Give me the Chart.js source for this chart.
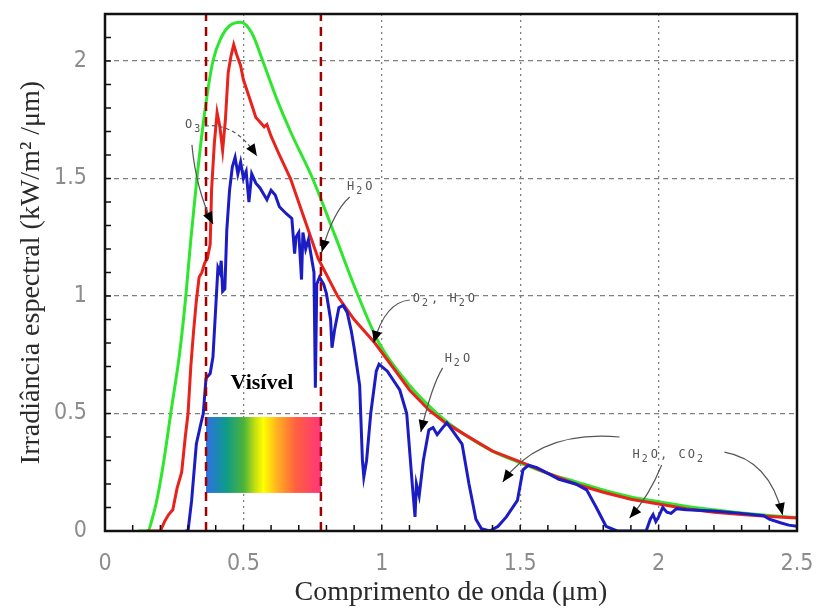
<!DOCTYPE html>
<html>
<head>
<meta charset="utf-8">
<script src="https://cdn.jsdelivr.net/npm/chart.js@4.4.1/dist/chart.umd.min.js"></script>
<style>
  html, body { margin: 0; padding: 0; background: #fff; }
  #wrap { width: 816px; height: 609px; }
</style>
</head>
<body>
<div id="wrap"><canvas id="chart" width="816" height="609"></canvas></div>
<script>
// ---- dados ----
const waveGreen = [0.12, 0.155, 0.17, 0.187, 0.21, 0.24, 0.27, 0.292, 0.31, 0.332, 0.36, 0.39, 0.42, 0.45, 0.49, 0.53, 0.57, 0.62, 0.67, 0.75, 0.83, 0.915, 0.99, 1.1, 1.2, 1.3, 1.4, 1.5, 1.6, 1.7, 1.8, 1.9, 2.0, 2.1, 2.2, 2.3, 2.4, 2.5];
const irrGreen  = [0, 0, 0.05, 0.13, 0.28, 0.52, 0.76, 1.0, 1.24, 1.5, 1.78, 2.0, 2.1, 2.15, 2.165, 2.12, 2.0, 1.84, 1.7, 1.5, 1.26, 1.0, 0.8, 0.62, 0.5, 0.41, 0.34, 0.29, 0.245, 0.21, 0.175, 0.145, 0.125, 0.105, 0.09, 0.077, 0.066, 0.057];

const waveRed = [0.15, 0.2, 0.215, 0.23, 0.245, 0.26, 0.277, 0.29, 0.3, 0.31, 0.32, 0.33, 0.34, 0.35, 0.36, 0.37, 0.38, 0.385, 0.395, 0.405, 0.415, 0.425, 0.435, 0.445, 0.455, 0.465, 0.475, 0.49, 0.5, 0.52, 0.545, 0.56, 0.575, 0.585, 0.6, 0.63, 0.67, 0.72, 0.77, 0.84, 0.9, 0.975, 1.05, 1.1, 1.17, 1.23, 1.3, 1.4, 1.51, 1.6, 1.7, 1.8, 1.9, 2.0, 2.1, 2.2, 2.3, 2.4, 2.5];
const irrRed  = [0, 0, 0.04, 0.07, 0.09, 0.18, 0.25, 0.4, 0.5, 0.7, 0.85, 0.98, 1.08, 1.1, 1.14, 1.16, 1.22, 1.45, 1.65, 1.78, 1.72, 1.62, 1.75, 1.95, 2.02, 2.07, 2.03, 1.98, 1.92, 1.85, 1.76, 1.74, 1.72, 1.73, 1.68, 1.6, 1.5, 1.33, 1.16, 1.0, 0.9, 0.8, 0.68, 0.6, 0.515, 0.46, 0.41, 0.34, 0.29, 0.245, 0.2, 0.165, 0.135, 0.115, 0.095, 0.08, 0.07, 0.062, 0.055];

const waveBlue = [0.29, 0.3, 0.313, 0.33, 0.345, 0.355, 0.365, 0.38, 0.39, 0.4, 0.408, 0.415, 0.42, 0.425, 0.433, 0.44, 0.45, 0.46, 0.47, 0.48, 0.49, 0.5, 0.51, 0.52, 0.53, 0.545, 0.56, 0.575, 0.585, 0.6, 0.615, 0.63, 0.655, 0.675, 0.685, 0.69, 0.7, 0.71, 0.715, 0.725, 0.735, 0.745, 0.755, 0.76, 0.765, 0.775, 0.79, 0.8, 0.815, 0.82, 0.83, 0.845, 0.86, 0.875, 0.89, 0.9, 0.91, 0.92, 0.93, 0.935, 0.945, 0.96, 0.98, 0.99, 1.02, 1.065, 1.09, 1.11, 1.12, 1.125, 1.135, 1.15, 1.17, 1.185, 1.2, 1.22, 1.235, 1.26, 1.29, 1.315, 1.34, 1.36, 1.39, 1.42, 1.45, 1.49, 1.51, 1.53, 1.56, 1.6, 1.64, 1.7, 1.74, 1.775, 1.81, 1.85, 1.955, 1.97, 1.98, 1.99, 2.0, 2.015, 2.03, 2.045, 2.065, 2.1, 2.2, 2.3, 2.38, 2.4, 2.44, 2.47, 2.5];
const irrBlue  = [0, 0, 0.13, 0.37, 0.45, 0.5, 0.65, 0.67, 0.74, 0.95, 1.12, 1.1, 1.15, 1.02, 1.03, 1.28, 1.45, 1.55, 1.59, 1.52, 1.57, 1.5, 1.53, 1.4, 1.52, 1.48, 1.46, 1.43, 1.41, 1.45, 1.43, 1.38, 1.35, 1.33, 1.18, 1.25, 1.27, 1.07, 1.27, 1.2, 1.24, 1.17, 1.1, 0.61, 1.05, 1.08, 1.05, 1.01, 0.9, 0.78, 0.86, 0.95, 0.96, 0.93, 0.85, 0.78, 0.7, 0.62, 0.3, 0.23, 0.3, 0.5, 0.68, 0.71, 0.68, 0.6, 0.5, 0.2, 0.06, 0.2, 0.15, 0.3, 0.43, 0.44, 0.41, 0.44, 0.46, 0.42, 0.37, 0.2, 0.05, 0.01, 0, 0.02, 0.06, 0.13, 0.26, 0.28, 0.27, 0.245, 0.22, 0.2, 0.175, 0.1, 0.02, 0, 0, 0.05, 0.07, 0.04, 0.06, 0.1, 0.08, 0.075, 0.095, 0.09, 0.085, 0.075, 0.065, 0.05, 0.035, 0.025, 0.02];

// faixa do visível
const visStart = 0.365;
const visEnd = 0.78;
const bandLow = 0.162;
const bandHigh = 0.485;

const xTicks = [0, 0.5, 1, 1.5, 2, 2.5];
const yTicks = [0, 0.5, 1, 1.5, 2];

// rótulos de absorção (texto, posição, setas)
const absorcoes = [
    { text: "O3", at: [0.289, 1.715], arrows: [
        { from: [0.314, 1.643], ctrl: [0.329, 1.451], to: [0.39, 1.306] },
        { from: [0.361, 1.723], ctrl: [0.469, 1.74], to: [0.549, 1.596], dashed: true } ] },
    { text: "H2O", at: [0.874, 1.451], arrows: [
        { from: [0.884, 1.421], ctrl: [0.823, 1.357], to: [0.783, 1.187] } ] },
    { text: "O2, H2O", at: [1.112, 0.974], arrows: [
        { from: [1.101, 0.983], ctrl: [1.011, 0.974], to: [0.971, 0.8] } ] },
    { text: "H2O", at: [1.227, 0.719], arrows: [
        { from: [1.22, 0.694], ctrl: [1.181, 0.621], to: [1.141, 0.421] } ] },
    { text: "H2O, CO2", at: [1.906, 0.311], arrows: [
        { from: [1.859, 0.4], ctrl: [1.57, 0.43], to: [1.437, 0.209] },
        { from: [2.011, 0.281], ctrl: [1.968, 0.153], to: [1.895, 0.055] },
        { from: [2.238, 0.336], ctrl: [2.401, 0.302], to: [2.448, 0.068] } ] }
];

function pts(xs, ys) {
    return xs.map((x, i) => ({ x: x, y: ys[i] }));
}

function drawSubText(ctx, text, px, py) {
    let cx = px;
    for (const ch of text) {
        if (/\d/.test(ch)) {
            ctx.font = "10px 'DejaVu Sans Mono'";
            ctx.fillText(ch, cx, py + 4);
            cx += ctx.measureText(ch).width + 3;
        } else {
            ctx.font = "12px 'DejaVu Sans Mono'";
            ctx.fillText(ch, cx, py);
            cx += ctx.measureText(ch).width + 2;
        }
    }
}

const overlay = {
    id: "overlay",
    beforeDatasetsDraw(chart) {
        const { ctx, scales: { x, y } } = chart;
        const x0 = x.getPixelForValue(visStart);
        const x1 = x.getPixelForValue(visEnd);
        const y0 = y.getPixelForValue(bandHigh);
        const y1 = y.getPixelForValue(bandLow);
        const g = ctx.createLinearGradient(x0, 0, x1, 0);
        g.addColorStop(0, "#2f6fe6");
        g.addColorStop(0.17, "#0e9a8c");
        g.addColorStop(0.33, "#4cb43a");
        g.addColorStop(0.43, "#c8e010");
        g.addColorStop(0.5, "#ffff00");
        g.addColorStop(0.62, "#ffb020");
        g.addColorStop(0.78, "#ff6040");
        g.addColorStop(1, "#ff357a");
        ctx.save();
        ctx.fillStyle = g;
        ctx.fillRect(x0, y0, x1 - x0, y1 - y0);
        ctx.restore();
    },
    afterDatasetsDraw(chart) {
        const { ctx, chartArea: a, scales: { x, y } } = chart;
        ctx.save();

        // marcas menores (0.1)
        ctx.strokeStyle = "#111";
        ctx.lineWidth = 1.5;
        ctx.beginPath();
        for (let i = 0; i <= 25; i++) {
            const px = x.getPixelForValue(i / 10);
            ctx.moveTo(px, a.bottom);
            ctx.lineTo(px, a.bottom - 6);
        }
        for (let i = 0; i <= 22; i++) {
            const py = y.getPixelForValue(i / 10);
            ctx.moveTo(a.left, py);
            ctx.lineTo(a.left + 6, py);
        }
        ctx.stroke();

        // moldura
        ctx.lineWidth = 2.5;
        ctx.strokeStyle = "#111";
        ctx.strokeRect(a.left, a.top, a.right - a.left, a.bottom - a.top);

        // texto "Visível"
        ctx.fillStyle = "#000";
        ctx.font = "bold 22px 'Liberation Serif'";
        ctx.textAlign = "center";
        ctx.textBaseline = "middle";
        ctx.fillText("Visível", x.getPixelForValue(0.567), y.getPixelForValue(0.63));

        // absorções
        ctx.textAlign = "left";
        ctx.textBaseline = "alphabetic";
        absorcoes.forEach(ab => {
            ctx.fillStyle = "#555";
            drawSubText(ctx, ab.text, x.getPixelForValue(ab.at[0]), y.getPixelForValue(ab.at[1]));
            ab.arrows.forEach(ar => {
                const fx = x.getPixelForValue(ar.from[0]), fy = y.getPixelForValue(ar.from[1]);
                const cx = x.getPixelForValue(ar.ctrl[0]), cy = y.getPixelForValue(ar.ctrl[1]);
                const tx = x.getPixelForValue(ar.to[0]), ty = y.getPixelForValue(ar.to[1]);
                ctx.strokeStyle = "#555";
                ctx.lineWidth = 1.2;
                ctx.setLineDash(ar.dashed ? [4, 3] : []);
                ctx.beginPath();
                ctx.moveTo(fx, fy);
                ctx.quadraticCurveTo(cx, cy, tx, ty);
                ctx.stroke();
                ctx.setLineDash([]);
                const ang = Math.atan2(ty - cy, tx - cx);
                ctx.fillStyle = "#000";
                ctx.beginPath();
                ctx.moveTo(tx, ty);
                ctx.lineTo(tx - 12 * Math.cos(ang) + 5 * Math.sin(ang), ty - 12 * Math.sin(ang) - 5 * Math.cos(ang));
                ctx.lineTo(tx - 12 * Math.cos(ang) - 5 * Math.sin(ang), ty - 12 * Math.sin(ang) + 5 * Math.cos(ang));
                ctx.closePath();
                ctx.fill();
            });
        });
        ctx.restore();
    }
};

const tickFont = { family: "'Liberation Sans Narrow', 'DejaVu Sans Condensed', sans-serif", size: 23 };
const titleFont = { family: "'Liberation Serif', serif", size: 28, lineHeight: 1.0 };

new Chart(document.getElementById("chart"), {
    type: "line",
    data: {
        datasets: [
            { data: [{ x: visStart, y: 0 }, { x: visStart, y: 2.2 }], borderColor: "#a00000", borderWidth: 2.5, borderDash: [9, 6], pointRadius: 0 },
            { data: [{ x: visEnd, y: 0 }, { x: visEnd, y: 2.2 }], borderColor: "#a00000", borderWidth: 2.5, borderDash: [9, 6], pointRadius: 0 },
            { data: pts(waveBlue, irrBlue), borderColor: "#1c1cc4", borderWidth: 3, pointRadius: 0, tension: 0 },
            { data: pts(waveRed, irrRed), borderColor: "#e8221c", borderWidth: 3, pointRadius: 0, tension: 0 },
            { data: pts(waveGreen, irrGreen), borderColor: "#2ee62e", borderWidth: 3, pointRadius: 0, cubicInterpolationMode: "monotone" }
        ]
    },
    options: {
        responsive: false,
        animation: false,
        layout: { padding: { top: 14, right: 19, left: 0, bottom: 0 } },
        plugins: { legend: { display: false }, tooltip: { enabled: false } },
        scales: {
            x: {
                type: "linear",
                min: 0,
                max: 2.5,
                afterFit: s => { s.height = 78; s.paddingLeft = 0; s.paddingRight = 0; },
                afterBuildTicks: s => { s.ticks = xTicks.map(v => ({ value: v })); },
                ticks: { color: "#8c8c8c", font: tickFont, padding: 19, maxRotation: 0, callback: v => String(v) },
                grid: { color: "#808080", lineWidth: 1.3, drawTicks: false },
                border: { display: false, dash: [2, 4] },
                title: { display: true, text: "Comprimento de onda (μm)", color: "#2a2a2a", font: titleFont, padding: { top: 0, bottom: 2 } }
            },
            y: {
                min: 0,
                max: 2.2,
                afterFit: s => { s.width = 105; s.paddingTop = 0; s.paddingBottom = 0; },
                afterBuildTicks: s => { s.ticks = yTicks.map(v => ({ value: v })); },
                ticks: { color: "#8c8c8c", font: tickFont, padding: 18, callback: v => String(v) },
                grid: { color: "#808080", lineWidth: 1.3, drawTicks: false },
                border: { display: false, dash: [5, 4] },
                title: { display: true, text: "Irradiância espectral (kW/m² /μm)", color: "#2a2a2a", font: titleFont, padding: { top: 18, bottom: 0 } }
            }
        }
    },
    plugins: [overlay]
});
</script>
</body>
</html>
